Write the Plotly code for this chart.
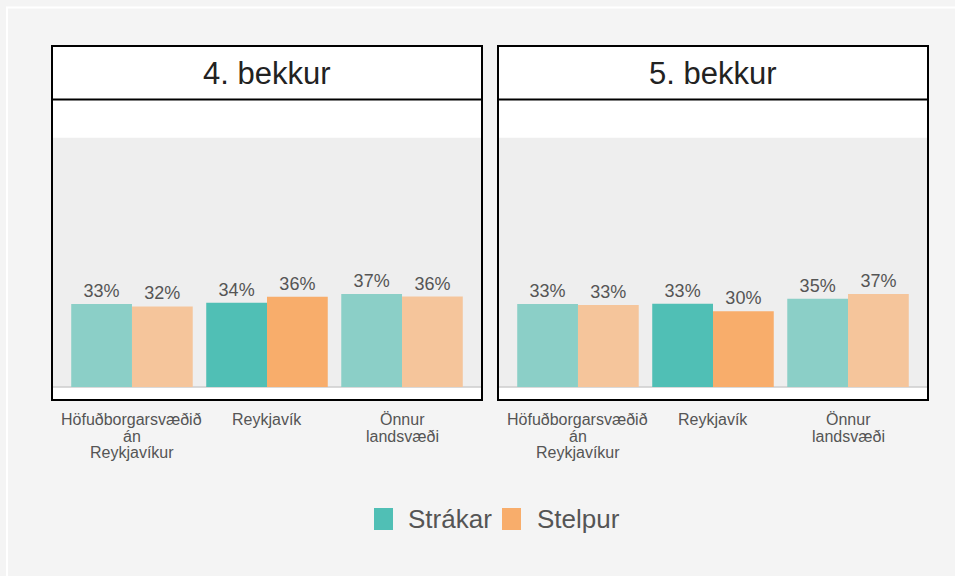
import plotly.graph_objects as go

W, H = 955, 576

categories = ["Höfuðborgarsvæðið<br>án<br>Reykjavíkur", "Reykjavík", "Önnur<br>landsvæði"]
panels = ["4. bekkur", "5. bekkur"]
series = ["Strákar", "Stelpur"]
# values in percent, per panel
strakar_4 = [33.3, 33.8, 37.3]
stelpur_4 = [32.3, 36.2, 36.3]
strakar_5 = [33.3, 33.4, 35.4]
stelpur_5 = [32.9, 30.4, 37.3]
highlight = "Reykjavík"

dark = {"Strákar": "#50bfb5", "Stelpur": "#f8ad6b"}
light = {"Strákar": "#8bcfc7", "Stelpur": "#f5c59b"}

FONT = "Liberation Sans, Arial, sans-serif"


def px(x):
    return x / W


def py(y):
    return 1 - y / H


fig = go.Figure()

data = {
    0: {"Strákar": strakar_4, "Stelpur": stelpur_4},
    1: {"Strákar": strakar_5, "Stelpur": stelpur_5},
}

for i in range(2):
    xa = "x" if i == 0 else "x2"
    ya = "y" if i == 0 else "y2"
    for s in series:
        vals = data[i][s]
        cols = [dark[s] if c == highlight else light[s] for c in categories]
        fig.add_trace(go.Bar(
            x=categories, y=vals, name=s, xaxis=xa, yaxis=ya,
            marker=dict(color=cols, line=dict(width=0)),
            text=[f"{round(v):.0f}%" for v in vals],
            textposition="outside",
            textfont=dict(size=18, color="#555555", family=FONT),
            cliponaxis=False, showlegend=False,
            offsetgroup=s,
        ))

# panel geometry in pixels
panel_x = [(53, 481), (499, 927)]
plot_top, plot_bot = 100, 399

yrange = [-4.8, 115.1]
xrange_ = [-0.585, 2.585]

layout_axes = {}
for i, (x0, x1) in enumerate(panel_x):
    sfx = "" if i == 0 else "2"
    layout_axes["xaxis" + sfx] = dict(
        domain=[px(x0), px(x1)], range=xrange_, anchor="y" + sfx,
        showgrid=False, zeroline=False, showline=False, ticks="",
        showticklabels=False, fixedrange=True,
    )
    layout_axes["yaxis" + sfx] = dict(
        domain=[py(plot_bot), py(plot_top)], range=yrange, anchor="x" + sfx,
        showgrid=False, zeroline=False, showline=False, showticklabels=False,
        ticks="", fixedrange=True,
    )

shapes = []
annotations = []

# outer white outline
shapes.append(dict(type="rect", xref="paper", yref="paper",
                   x0=px(7), y0=-0.05, x1=1.05, y1=py(7.5),
                   line=dict(color="white", width=2), fillcolor="rgba(0,0,0,0)"))

for i, (x0, x1) in enumerate(panel_x):
    sfx = "" if i == 0 else "2"
    # gray background 0..100
    shapes.append(dict(type="rect", xref=f"x{sfx} domain", yref=f"y{sfx}",
                       x0=0, x1=1, y0=0, y1=100, fillcolor="#eeeeee",
                       line=dict(width=0), layer="below"))
    # baseline
    shapes.append(dict(type="line", xref=f"x{sfx} domain", yref=f"y{sfx}",
                       x0=0, x1=1, y0=0, y1=0,
                       line=dict(color="#cccccc", width=1.5), layer="below"))
    # strip
    shapes.append(dict(type="rect", xref="paper", yref="paper",
                       x0=px(x0 - 1), x1=px(x1 + 1), y0=py(99.5), y1=py(46),
                       fillcolor="white", line=dict(color="black", width=2)))
    # panel border
    shapes.append(dict(type="rect", xref="paper", yref="paper",
                       x0=px(x0 - 1), x1=px(x1 + 1), y0=py(400), y1=py(46),
                       fillcolor="rgba(0,0,0,0)", line=dict(color="black", width=2)))
    annotations.append(dict(text=panels[i], xref="paper", yref="paper",
                            x=px((x0 + x1) / 2), y=py(73), showarrow=False,
                            xanchor="center", yanchor="middle",
                            font=dict(size=31, color="#222222", family=FONT)))
    # category labels, one line per annotation (tight line spacing)
    for c in categories:
        for k, line in enumerate(c.split("<br>")):
            annotations.append(dict(text=line, xref=f"x{sfx}", yref="paper",
                                    x=c, y=py(419.5 + 16.5 * k), showarrow=False,
                                    xanchor="center", yanchor="middle",
                                    font=dict(size=16, color="#555555", family=FONT)))

# manual legend
legend_items = [("Strákar", 374, 406), ("Stelpur", 502, 535)]
for name, sx, tx in legend_items:
    shapes.append(dict(type="rect", xref="paper", yref="paper",
                       x0=px(sx), x1=px(sx + 19), y0=py(530), y1=py(508),
                       fillcolor=dark[name], line=dict(width=0)))
    annotations.append(dict(text=name, xref="paper", yref="paper",
                            x=px(tx), y=py(519), showarrow=False,
                            xanchor="left", yanchor="middle",
                            font=dict(size=26, color="#555555", family=FONT)))

fig.update_layout(
    width=W, height=H,
    margin=dict(l=0, r=0, t=0, b=0),
    paper_bgcolor="#f4f4f4", plot_bgcolor="white",
    barmode="group", bargap=0.1, bargroupgap=0,
    showlegend=False,
    shapes=shapes, annotations=annotations,
    font=dict(family=FONT),
    **layout_axes,
)

fig.write_html(
    "out.html",
    config={"displayModeBar": False},
    post_script="document.body.style.margin='0';document.body.style.background='#f4f4f4';document.body.style.overflow='hidden';",
)
